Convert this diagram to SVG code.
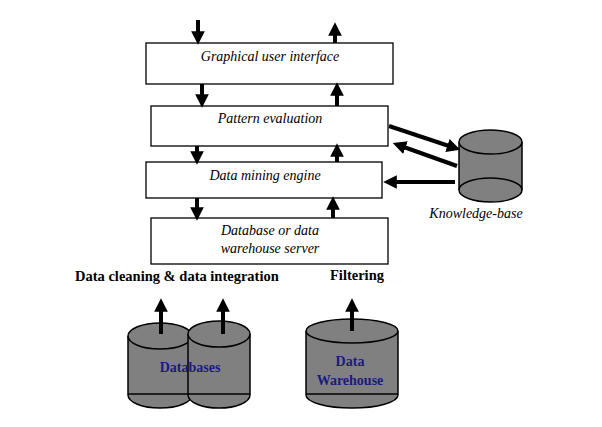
<svg xmlns="http://www.w3.org/2000/svg" width="602" height="427" viewBox="0 0 602 427">
<style>
.box{fill:#fff;stroke:#000;stroke-width:1.3}
.cyl{fill:#808080;stroke:#000;stroke-width:1.5}
.it{font-family:"Liberation Serif",serif;font-style:italic;font-size:14px;text-anchor:middle}
.bd{font-family:"Liberation Serif",serif;font-weight:bold;font-size:14.5px}
.bl{font-family:"Liberation Serif",serif;font-weight:bold;font-size:14px;fill:#1a1a80;text-anchor:middle}
.ar{stroke:#000;stroke-width:4;fill:none;marker-end:url(#ah)}
</style>
<defs><marker id="ah" markerWidth="3.4" markerHeight="3.4" refX="1.2" refY="1.7" orient="auto" markerUnits="strokeWidth"><path d="M0,0L3.4,1.7L0,3.4z" fill="#000"/></marker></defs>
<rect width="602" height="427" fill="#fff"/>
<g id="gui"><rect class="box" x="146" y="43" width="247" height="41"/><text class="it" x="270" y="61">Graphical user interface</text></g>
<g id="pattern"><rect class="box" x="151" y="106" width="237" height="40"/><text class="it" x="270" y="123">Pattern evaluation</text></g>
<g id="engine"><rect class="box" x="146" y="162" width="236" height="36"/><text class="it" x="265" y="180">Data mining engine</text></g>
<g id="server"><rect class="box" x="151" y="218" width="237" height="46"/><text class="it" x="270" y="235">Database or data</text><text class="it" x="270" y="253">warehouse server</text></g>
<g id="kb"><path class="cyl" d="M459,142V190A31.5,12 0 0 0 522,190V142"/><ellipse class="cyl" cx="490.5" cy="142" rx="31.5" ry="12"/><path d="M459,190A31.5,12 0 0 1 522,190" fill="none" stroke="#000" stroke-width="1.5"/><text class="it" x="476" y="218">Knowledge-base</text></g>
<g id="databases"><path class="cyl" d="M128,336V395A32,13 0 0 0 192,395V336"/><ellipse class="cyl" cx="160" cy="336" rx="32" ry="13"/><line x1="128" y1="394" x2="192" y2="394" stroke="#000" stroke-width="1.5"/><path class="cyl" d="M188,334V395A31,13 0 0 0 250,395V334"/><ellipse class="cyl" cx="219" cy="334" rx="31" ry="13"/><line x1="188" y1="394" x2="250" y2="394" stroke="#000" stroke-width="1.5"/><text class="bl" x="190" y="372">Databases</text></g>
<g id="dw"><path class="cyl" d="M306,331V395A46,13 0 0 0 398,395V331"/><ellipse class="cyl" cx="352" cy="331" rx="46" ry="12"/><line x1="306" y1="394" x2="398" y2="394" stroke="#000" stroke-width="1.5"/><text class="bl" x="350" y="366">Data</text><text class="bl" x="350" y="385">Warehouse</text></g>
<g id="labels"><text class="bd" x="75" y="281">Data cleaning &amp; data integration</text><text class="bd" x="330" y="280">Filtering</text></g>
<g id="connectors">
<line class="ar" x1="198" y1="20" x2="198" y2="36"/>
<line class="ar" x1="335" y1="43" x2="335" y2="31"/>
<line class="ar" x1="202" y1="84" x2="202" y2="99"/>
<line class="ar" x1="337" y1="106" x2="337" y2="91"/>
<line class="ar" x1="197" y1="146" x2="197" y2="156"/>
<line class="ar" x1="337" y1="162" x2="337" y2="152"/>
<line class="ar" x1="197" y1="198" x2="197" y2="212"/>
<line class="ar" x1="333" y1="218" x2="333" y2="205"/>
<line class="ar" x1="389" y1="126" x2="452" y2="147"/>
<line class="ar" x1="457" y1="166" x2="401" y2="146"/>
<line class="ar" x1="455" y1="182" x2="392" y2="182"/>
<line class="ar" x1="161" y1="334" x2="161" y2="307"/>
<line class="ar" x1="223" y1="334" x2="223" y2="307"/>
<line class="ar" x1="352" y1="331" x2="352" y2="307"/>
</g>
</svg>
